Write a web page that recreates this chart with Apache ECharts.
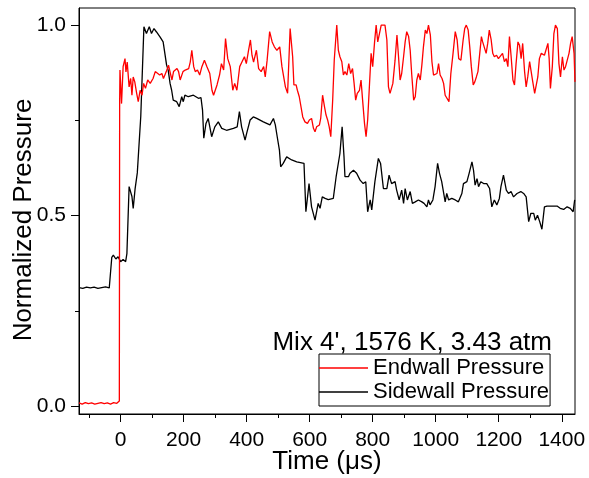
<!DOCTYPE html>
<html>
<head>
<meta charset="utf-8">
<script src="https://cdn.jsdelivr.net/npm/echarts@6/dist/echarts.min.js"></script>
<style>html,body{margin:0;padding:0;background:#fff;}#c{width:589px;height:478px;}</style>
</head>
<body>
<div id="c"></div>
<script>
// ---- data (time in µs, normalized pressure) ----
const endwallTime = [-132,-122,-112,-102,-92,-82,-72,-62,-52,-42,-32,-22,-12,-6,-4,-3,-2,3,8,14,17,21,27,32,36,40,45,51,56,62,68,73,79,86,94,103,110,115,124,131,136,145,152,158,163,168,179,184,189,198,205,216,221,226,232,237,244,251,258,266,274,283,290,295,306,314,320,327,333,340,348,356,362,369,378,385,393,399,406,412,417,422,431,438,446,454,459,465,473,481,488,496,505,512,523,530,538,546,550,557,561,567,571,578,585,593,599,606,612,617,622,631,635,641,647,652,657,662,667,673,678,686,691,696,702,707,712,718,724,730,736,741,746,751,758,763,768,774,779,784,790,795,800,806,811,816,821,827,839,845,850,855,864,871,877,882,887,892,898,903,908,914,919,924,930,935,940,945,951,956,961,967,972,977,983,988,993,998,1004,1009,1014,1020,1025,1030,1036,1042,1048,1055,1062,1068,1073,1080,1087,1092,1097,1103,1108,1113,1119,1124,1129,1134,1140,1145,1149,1155,1160,1165,1170,1176,1181,1186,1193,1199,1205,1212,1218,1224,1229,1234,1239,1245,1250,1255,1261,1266,1271,1276,1282,1287,1292,1298,1303,1308,1314,1319,1324,1329,1335,1340,1345,1351,1356,1360,1364,1370,1375,1380,1386,1391,1396,1402,1407,1412,1417,1423,1428,1433,1439,1442];
const endwallValues = [0.008,0.005,0.009,0.006,0.008,0.005,0.007,0.009,0.006,0.008,0.005,0.009,0.007,0.010,0.013,0.80,0.882,0.794,0.891,0.912,0.877,0.903,0.838,0.860,0.816,0.864,0.851,0.821,0.799,0.829,0.816,0.847,0.834,0.856,0.847,0.860,0.878,0.882,0.869,0.873,0.860,0.878,0.895,0.873,0.856,0.878,0.886,0.878,0.856,0.878,0.882,0.886,0.903,0.934,0.891,0.878,0.882,0.869,0.891,0.908,0.891,0.873,0.829,0.816,0.843,0.869,0.899,0.882,0.965,0.912,0.891,0.829,0.847,0.829,0.891,0.903,0.917,0.899,0.934,0.961,0.921,0.903,0.934,0.886,0.878,0.891,0.864,0.908,0.983,0.956,0.943,0.934,0.943,0.891,0.838,0.821,0.991,0.917,0.843,0.843,0.829,0.812,0.816,0.759,0.746,0.742,0.751,0.755,0.729,0.720,0.733,0.738,0.755,0.816,0.786,0.764,0.751,0.733,0.707,0.803,0.908,1.0,0.934,0.917,0.904,0.869,0.878,0.869,0.899,0.873,0.886,0.847,0.803,0.821,0.829,0.856,0.803,0.742,0.707,0.751,0.847,0.926,0.891,0.956,1.0,0.956,0.961,1.0,1.0,0.961,0.838,0.821,0.847,0.908,0.974,0.917,0.856,0.873,0.917,0.956,0.983,0.970,0.934,0.869,0.803,0.812,0.856,0.873,0.856,0.895,0.943,0.987,0.978,1.0,0.974,0.904,0.869,0.864,0.873,0.899,0.869,0.860,0.847,0.816,0.821,0.799,0.873,0.926,0.983,0.961,0.912,0.908,0.961,0.991,1.0,0.987,0.943,0.891,0.843,0.851,0.864,0.878,0.878,0.970,0.956,0.961,0.926,0.952,0.987,0.961,0.926,0.917,0.921,0.912,0.917,0.926,0.904,0.912,0.891,0.970,0.921,0.856,0.843,0.899,0.956,0.947,0.912,0.952,0.878,0.838,0.864,0.904,0.908,0.851,0.821,0.821,0.864,0.912,0.926,0.926,0.921,0.926,0.952,0.912,0.834,0.891,0.978,1.0,0.991,0.899,0.864,0.917,0.882,0.891,0.886,0.926,0.952,0.970,0.926,0.851];

const sidewallTime = [-132,-120,-108,-96,-84,-72,-60,-48,-36,-30,-28,-23,-15,-8,0,8,16,20,27,31,36,40,46,53,64,74,82,91,98,106,114,125,135,141,146,151,157,162,167,172,178,186,194,199,204,215,231,247,255,260,264,271,278,289,299,310,321,336,358,370,377,384,395,400,411,421,432,453,474,485,491,497,504,508,516,527,543,559,582,588,598,606,617,627,633,640,649,659,675,684,689,696,703,709,712,717,723,728,739,749,760,770,778,784,792,797,807,818,825,834,845,852,860,871,876,884,892,898,903,910,919,926,935,945,956,963,972,977,982,991,998,1006,1012,1019,1025,1030,1035,1041,1051,1062,1072,1083,1088,1099,1106,1115,1120,1125,1131,1136,1143,1152,1162,1171,1178,1186,1194,1202,1207,1215,1224,1231,1239,1247,1258,1270,1279,1287,1295,1302,1311,1316,1323,1330,1337,1345,1353,1369,1385,1395,1406,1417,1427,1436,1441];
const sidewallValues = [0.311,0.309,0.312,0.310,0.312,0.309,0.311,0.313,0.310,0.311,0.390,0.396,0.386,0.392,0.379,0.385,0.379,0.40,0.576,0.58,0.55,0.519,0.57,0.612,0.76,0.996,0.978,0.996,0.978,0.991,0.982,0.969,0.956,0.956,0.895,0.882,0.847,0.829,0.803,0.808,0.799,0.786,0.812,0.799,0.816,0.812,0.816,0.808,0.810,0.777,0.703,0.742,0.755,0.707,0.733,0.746,0.729,0.724,0.729,0.733,0.773,0.733,0.698,0.716,0.751,0.759,0.755,0.746,0.738,0.755,0.738,0.707,0.672,0.628,0.637,0.654,0.646,0.641,0.637,0.510,0.584,0.523,0.488,0.532,0.519,0.549,0.545,0.542,0.545,0.602,0.602,0.663,0.733,0.654,0.602,0.606,0.602,0.611,0.619,0.611,0.593,0.584,0.589,0.510,0.541,0.515,0.589,0.650,0.637,0.571,0.571,0.606,0.584,0.589,0.567,0.541,0.567,0.532,0.571,0.541,0.563,0.532,0.536,0.541,0.536,0.532,0.523,0.541,0.528,0.541,0.576,0.637,0.611,0.589,0.584,0.536,0.558,0.541,0.545,0.541,0.536,0.558,0.584,0.589,0.611,0.641,0.619,0.580,0.597,0.576,0.589,0.584,0.584,0.571,0.523,0.541,0.528,0.545,0.576,0.606,0.567,0.558,0.563,0.549,0.558,0.563,0.558,0.549,0.484,0.506,0.506,0.488,0.501,0.484,0.464,0.523,0.525,0.525,0.525,0.519,0.516,0.523,0.519,0.510,0.541];

const xMajorTicks = [0,200,400,600,800,1000,1200,1400];
const xMinorTicks = [-100,100,300,500,700,900,1100,1300];
const yMajorTicks = [0,0.5,1.0];
const yMinorTicks = [0.25,0.75];
const seriesNames = ['Endwall Pressure','Sidewall Pressure'];
const annotation = "Mix 4', 1576 K, 3.43 atm";

const zip = (a, b) => a.map((v, i) => [v, b[i]]);
const FONT = 'Liberation Sans, Arial, sans-serif';
const X_MIN = -132, X_MAX = 1442, Y_MIN = -0.021, Y_MAX = 1.045;

const chart = echarts.init(document.getElementById('c'), null, {renderer: 'canvas'});
chart.setOption({
  animation: false,
  backgroundColor: '#fff',
  textStyle: {fontFamily: FONT},
  grid: {left: 79, top: 8, width: 496, height: 406, show: true, borderColor: '#000', borderWidth: 1, backgroundColor: 'transparent', containLabel: false, outerBoundsMode: 'none'},
  xAxis: [
    {type: 'value', min: X_MIN, max: X_MAX, position: 'bottom',
     axisLine: {show: true, onZero: false, lineStyle: {color: '#000', width: 1}},
     axisTick: {show: true, customValues: xMajorTicks, length: 8, lineStyle: {color: '#000', width: 1}},
     axisLabel: {show: true, customValues: xMajorTicks, fontSize: 21, color: '#000', margin: 16, fontFamily: FONT,
                 formatter: v => String(v)},
     splitLine: {show: false},
     name: 'Time (\u03bcs)', nameLocation: 'middle', nameGap: 35, nameMoveOverlap: false,
     nameTextStyle: {fontSize: 26, color: '#000', fontFamily: FONT}},
    {type: 'value', min: X_MIN, max: X_MAX, position: 'bottom',
     axisLine: {show: false, onZero: false},
     axisTick: {show: true, customValues: xMinorTicks, length: 4, lineStyle: {color: '#000', width: 1}},
     axisLabel: {show: false}, splitLine: {show: false}}
  ],
  yAxis: [
    {type: 'value', min: Y_MIN, max: Y_MAX, position: 'left',
     axisLine: {show: true, onZero: false, lineStyle: {color: '#000', width: 1}},
     axisTick: {show: true, customValues: yMajorTicks, length: 8, lineStyle: {color: '#000', width: 1}},
     axisLabel: {show: true, customValues: yMajorTicks, fontSize: 21, color: '#000', margin: 13, fontFamily: FONT,
                 formatter: v => v.toFixed(1)},
     splitLine: {show: false},
     name: 'Normalized Pressure', nameLocation: 'middle', nameGap: 42, nameMoveOverlap: false,
     nameTextStyle: {fontSize: 26, color: '#000', fontFamily: FONT, padding: [0, 18, 0, 0]}},
    {type: 'value', min: Y_MIN, max: Y_MAX, position: 'left',
     axisLine: {show: false, onZero: false},
     axisTick: {show: true, customValues: yMinorTicks, length: 4, lineStyle: {color: '#000', width: 1}},
     axisLabel: {show: false}, splitLine: {show: false}}
  ],
  legend: {
    data: seriesNames, orient: 'vertical', left: 319, top: 354,
    icon: 'rect', itemWidth: 49, itemHeight: 1.5, itemGap: 2,
    padding: [3, 1, 3, 0], borderColor: '#000', borderWidth: 1, backgroundColor: '#fff',
    textStyle: {fontSize: 22, color: '#000', fontFamily: FONT, lineHeight: 22}
  },
  graphic: [{
    type: 'text', right: 37, top: 330,
    style: {text: annotation, font: '26px ' + FONT, fill: '#000'}
  }],
  series: [
    {name: seriesNames[0], type: 'line', xAxisIndex: 0, yAxisIndex: 0, data: zip(endwallTime, endwallValues),
     symbol: 'none', color: '#ff0000', lineStyle: {color: '#ff0000', width: 1.3}, z: 3},
    {name: seriesNames[1], type: 'line', xAxisIndex: 0, yAxisIndex: 0, data: zip(sidewallTime, sidewallValues),
     symbol: 'none', color: '#000000', lineStyle: {color: '#000000', width: 1.3}, z: 2}
  ]
});
</script>
</body>
</html>
